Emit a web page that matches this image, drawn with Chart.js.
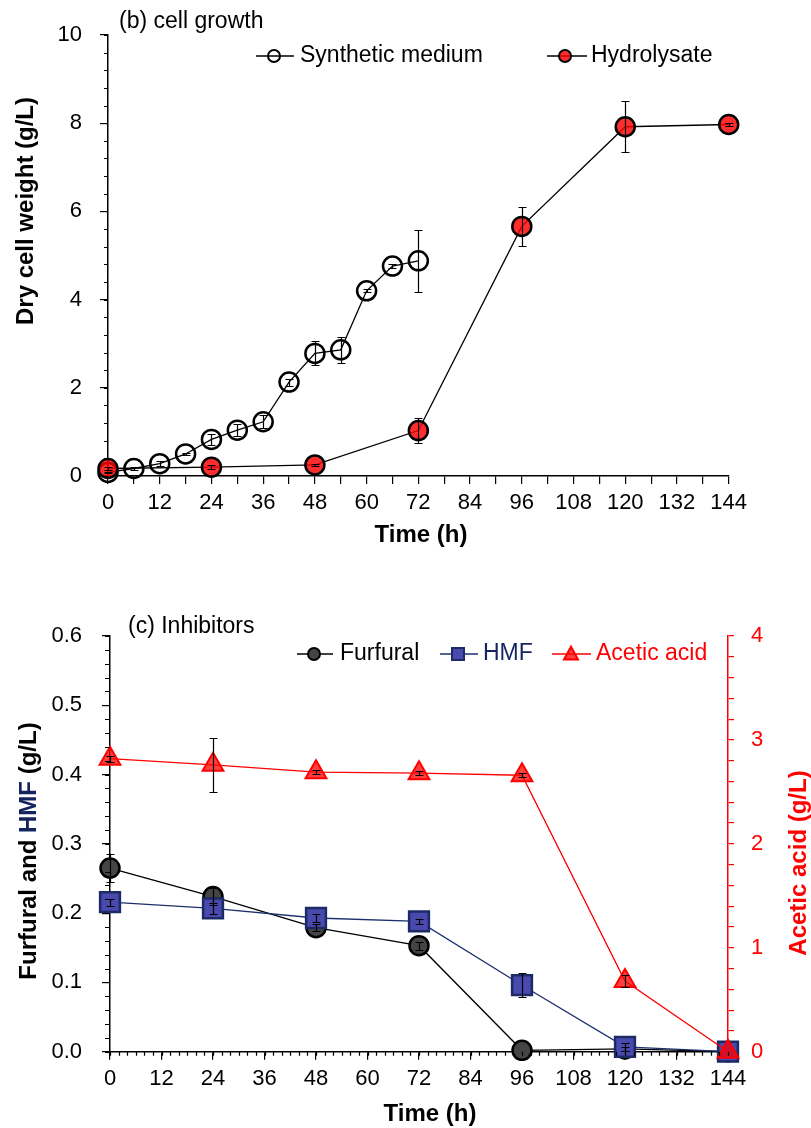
<!DOCTYPE html>
<html><head><meta charset="utf-8">
<script src="https://cdn.jsdelivr.net/npm/chart.js@4"></script>
<style>
html,body{margin:0;padding:0;background:#fff;}
#wrap{position:relative;width:811px;height:1128px;overflow:hidden;background:#fff;}
canvas{position:absolute;left:0;}
#c1{top:0}
#c2{top:565px}
</style></head><body>
<div id="wrap"><canvas id="c1" width="811" height="565"></canvas><canvas id="c2" width="811" height="563"></canvas></div>
<script>
// ---------------- data ----------------
// (b) cell growth
const timeSynthetic = [0, 6, 12, 18, 24, 30, 36, 42, 48, 54, 60, 66, 72];
const dcwSynthetic  = [0.08, 0.17, 0.28, 0.50, 0.83, 1.04, 1.23, 2.13, 2.78, 2.86, 4.20, 4.76, 4.88];
const errSynthetic  = [0.02, 0.03, 0.05, 0.03, 0.12, 0.13, 0.15, 0.08, 0.27, 0.30, 0.03, 0.04, 0.70];
const timeHydrolysate = [0, 24, 48, 72, 96, 120, 144];
const dcwHydrolysate  = [0.17, 0.20, 0.25, 1.03, 5.66, 7.92, 7.97];
const errHydrolysate  = [0.03, 0.05, 0.03, 0.28, 0.45, 0.58, 0.03];
const growthXTickLabels = [0, 12, 24, 36, 48, 60, 72, 84, 96, 108, 120, 132, 144];
const growthYTickLabels = [0, 2, 4, 6, 8, 10];

// (c) inhibitors
const timeInhibitors = [0, 24, 48, 72, 96, 120, 144];
const furfural    = [0.265, 0.224, 0.179, 0.153, 0.002, 0.004, 0.000];
const furfuralErr = [0.020, 0.012, 0.005, 0.006, 0.000, 0.003, 0.000];
const hmf         = [0.216, 0.207, 0.193, 0.188, 0.096, 0.007, 0.000];
const hmfErr      = [0.005, 0.008, 0.006, 0.004, 0.017, 0.006, 0.000];
const aceticAcid    = [2.82, 2.76, 2.69, 2.68, 2.66, 0.68, 0.00];
const aceticAcidErr = [0.03, 0.26, 0.02, 0.02, 0.02, 0.06, 0.00];
const inhibXTickLabels = [0, 12, 24, 36, 48, 60, 72, 84, 96, 108, 120, 132, 144];
const inhibYTickLabels = ['0.0', '0.1', '0.2', '0.3', '0.4', '0.5', '0.6'];
const aceticYTickLabels = ['0', '1', '2', '3', '4'];

// ---------------- helpers ----------------
const FONT = "'Liberation Sans', Arial, Helvetica, sans-serif";
Chart.defaults.font.family = FONT;
Chart.defaults.color = '#000';

const pts = (xs, ys) => xs.map((x, i) => ({x, y: ys[i]}));
const setW = w => s => { s.width = w; s.paddingTop = 0; s.paddingBottom = 0; };
const setH = h => s => { s.height = h; s.paddingLeft = 0; s.paddingRight = 0; };
const snap = v => Math.round(v) + 0.5;

function txt(ctx, s, x, y, o = {}) {
  const {size = 23, bold = false, color = '#000', align = 'left', rot = 0} = o;
  ctx.save();
  ctx.translate(x, y); ctx.rotate(rot);
  ctx.font = (bold ? 'bold ' : '') + size + 'px ' + FONT;
  ctx.fillStyle = color; ctx.textAlign = align; ctx.textBaseline = 'middle';
  ctx.fillText(s, 0, 0);
  ctx.restore();
}
function multiTxt(ctx, parts, x, y, size, rot) {
  ctx.save();
  ctx.translate(x, y); ctx.rotate(rot);
  ctx.font = 'bold ' + size + 'px ' + FONT;
  ctx.textBaseline = 'middle'; ctx.textAlign = 'left';
  const total = parts.reduce((a, p) => a + ctx.measureText(p[0]).width, 0);
  let cx = -total / 2;
  parts.forEach(p => { ctx.fillStyle = p[1]; ctx.fillText(p[0], cx, 0); cx += ctx.measureText(p[0]).width; });
  ctx.restore();
}
function marker(ctx, style, x, y, r, fill, stroke, lw) {
  ctx.save();
  ctx.beginPath();
  if (style === 'circle') ctx.arc(x, y, r, 0, Math.PI * 2);
  else if (style === 'rect') ctx.rect(x - r, y - r, 2 * r, 2 * r);
  else { ctx.moveTo(x, y - r * 1.05); ctx.lineTo(x + r, y + r * 0.8); ctx.lineTo(x - r, y + r * 0.8); ctx.closePath(); }
  if (fill) { ctx.fillStyle = fill; ctx.fill(); }
  ctx.lineWidth = lw; ctx.strokeStyle = stroke; ctx.stroke();
  ctx.restore();
}
function legendItem(ctx, x1, x2, mx, y, style, r, fill, stroke, lineColor, label, tx, tcolor) {
  ctx.save();
  ctx.strokeStyle = lineColor; ctx.lineWidth = 1.3;
  ctx.beginPath(); ctx.moveTo(x1, snap(y) - 0.5); ctx.lineTo(x2, snap(y) - 0.5); ctx.stroke();
  ctx.restore();
  marker(ctx, style, mx, y, r, fill, stroke, 2);
  txt(ctx, label, tx, y, {size: 23, color: tcolor});
}
function minorTicks(id, specs) {
  return { id, afterDraw(chart) {
    const ctx = chart.ctx;
    specs.forEach(s => {
      const sc = chart.scales[s.axis];
      ctx.save(); ctx.strokeStyle = s.color; ctx.lineWidth = 1.2; ctx.beginPath();
      for (let k = 0; ; k++) {
        const v = sc.min + k * s.step;
        if (v > sc.max + 1e-9) break;
        const p = snap(sc.getPixelForValue(v));
        if (s.side === 'left') { ctx.moveTo(sc.right, p); ctx.lineTo(sc.right - s.len, p); }
        else if (s.side === 'right') { ctx.moveTo(sc.left, p); ctx.lineTo(sc.left + s.len, p); }
        else { ctx.moveTo(p, sc.top); ctx.lineTo(p, sc.top + s.len); }
      }
      ctx.stroke(); ctx.restore();
    });
  }};
}
function errorBars(id, specs) {
  return { id, afterDatasetsDraw(chart) {
    const ctx = chart.ctx, xs = chart.scales.x;
    specs.forEach(s => {
      const ys = chart.scales[s.axis];
      ctx.save(); ctx.strokeStyle = '#000'; ctx.lineWidth = 1.2; ctx.beginPath();
      s.t.forEach((t, i) => {
        const e = s.e[i]; if (!e) return;
        const x = snap(xs.getPixelForValue(t));
        const y1 = Math.round(ys.getPixelForValue(s.v[i] + e)) + 0.5;
        const y2 = Math.round(ys.getPixelForValue(Math.max(s.v[i] - e, 0))) + 0.5;
        ctx.moveTo(x, y1); ctx.lineTo(x, y2);
        ctx.moveTo(x - 4, y1); ctx.lineTo(x + 4, y1);
        ctx.moveTo(x - 4, y2); ctx.lineTo(x + 4, y2);
      });
      ctx.stroke(); ctx.restore();
    });
  }};
}
const axisGrid = (len, color) => ({display: true, drawOnChartArea: false, drawTicks: true, tickLength: len, color, lineWidth: 1.2});
const axisBorder = color => ({display: true, color, width: 1.5});

// ---------------- chart (b) ----------------
new Chart(document.getElementById('c1'), {
  type: 'line',
  data: { datasets: [
    { label: 'Hydrolysate', data: pts(timeHydrolysate, dcwHydrolysate), order: 0,
      borderColor: '#000', borderWidth: 1.3, tension: 0, fill: false, clip: false,
      pointStyle: 'circle', pointRadius: 9.5, pointBorderWidth: 2.5,
      pointBackgroundColor: 'rgba(255,0,0,0.82)', pointBorderColor: '#000' },
    { label: 'Synthetic medium', data: pts(timeSynthetic, dcwSynthetic), order: 1,
      borderColor: '#000', borderWidth: 1.3, tension: 0, fill: false, clip: false,
      pointStyle: 'circle', pointRadius: 9.5, pointBorderWidth: 2.5,
      pointBackgroundColor: 'rgba(0,0,0,0)', pointBorderColor: '#000' }
  ]},
  options: {
    responsive: false, animation: false, devicePixelRatio: 1, events: [],
    layout: { padding: { top: 35, right: 82.3, left: 0, bottom: 0 } },
    plugins: { legend: { display: false }, tooltip: { enabled: false } },
    scales: {
      x: { type: 'linear', position: 'bottom', min: 0, max: 144, afterFit: setH(89),
        ticks: { stepSize: 6, autoSkip: false, maxRotation: 0, minRotation: 0, padding: 6, font: { size: 22 },
          callback: v => growthXTickLabels.includes(v) ? String(v) : '' },
        grid: axisGrid(8, '#000'), border: axisBorder('#000') },
      y: { type: 'linear', position: 'left', min: 0, max: 10, afterFit: setW(108),
        ticks: { stepSize: 2, autoSkip: false, padding: 18, font: { size: 22 },
          callback: v => growthYTickLabels.includes(v) ? String(v) : '' },
        grid: axisGrid(8, '#000'), border: axisBorder('#000') }
    }
  },
  plugins: [
    minorTicks('minorB', [{axis: 'y', step: 0.4, len: 4, side: 'left', color: '#000'}]),
    errorBars('errB', [
      {axis: 'y', t: timeSynthetic, v: dcwSynthetic, e: errSynthetic},
      {axis: 'y', t: timeHydrolysate, v: dcwHydrolysate, e: errHydrolysate}
    ]),
    { id: 'textB', afterDraw(chart) {
      const ctx = chart.ctx;
      txt(ctx, '(b) cell growth', 119, 22, {size: 23});
      legendItem(ctx, 256, 294, 274, 56, 'circle', 6, null, '#000', '#000', 'Synthetic medium', 300, '#000');
      legendItem(ctx, 547, 587, 565, 56, 'circle', 6, 'rgba(255,0,0,0.82)', '#000', '#000', 'Hydrolysate', 591, '#000');
      txt(ctx, 'Time (h)', 421, 535, {size: 24, bold: true, align: 'center'});
      txt(ctx, 'Dry cell weight (g/L)', 26, 211, {size: 24, bold: true, align: 'center', rot: -Math.PI / 2});
    }}
  ]
});

// ---------------- chart (c) ----------------
new Chart(document.getElementById('c2'), {
  type: 'line',
  data: { datasets: [
    { label: 'Acetic acid', data: pts(timeInhibitors, aceticAcid), yAxisID: 'y2', order: 0,
      borderColor: '#ff0000', borderWidth: 1.3, tension: 0, fill: false, clip: false,
      pointStyle: 'triangle', pointRadius: 12, pointBorderWidth: 2,
      pointBackgroundColor: 'rgba(255,0,0,0.75)', pointBorderColor: '#ff0000' },
    { label: 'HMF', data: pts(timeInhibitors, hmf), yAxisID: 'y', order: 1,
      borderColor: '#1c2f6e', borderWidth: 1.3, tension: 0, fill: false, clip: false,
      pointStyle: 'rect', pointRadius: 14, pointBorderWidth: 2.5,
      pointBackgroundColor: '#4a4aae', pointBorderColor: '#1c2a66' },
    { label: 'Furfural', data: pts(timeInhibitors, furfural), yAxisID: 'y', order: 2,
      borderColor: '#000', borderWidth: 1.3, tension: 0, fill: false, clip: false,
      pointStyle: 'circle', pointRadius: 9.5, pointBorderWidth: 2.5,
      pointBackgroundColor: '#454545', pointBorderColor: '#000' }
  ]},
  options: {
    responsive: false, animation: false, devicePixelRatio: 1, events: [],
    layout: { padding: { top: 71, right: 0, left: 0, bottom: 0 } },
    plugins: { legend: { display: false }, tooltip: { enabled: false } },
    scales: {
      x: { type: 'linear', position: 'bottom', min: 0, max: 144, afterFit: setH(76.3),
        ticks: { stepSize: 12, autoSkip: false, maxRotation: 0, minRotation: 0, padding: 6, font: { size: 22 },
          callback: v => inhibXTickLabels.includes(v) ? String(v) : '' },
        grid: axisGrid(8, '#000'), border: axisBorder('#000') },
      y: { type: 'linear', position: 'left', min: 0, max: 0.6, afterFit: setW(110),
        ticks: { stepSize: 0.1, autoSkip: false, padding: 20, font: { size: 22 },
          callback: v => { const s = v.toFixed(1); return inhibYTickLabels.includes(s) ? s : ''; } },
        grid: axisGrid(8, '#000'), border: axisBorder('#000') },
      y2: { type: 'linear', position: 'right', min: 0, max: 4, afterFit: setW(83),
        ticks: { stepSize: 0.2, autoSkip: false, padding: 17, color: '#ff0000', font: { size: 22 },
          callback: v => { const r = Math.round(v); return (Math.abs(v - r) < 1e-6 && aceticYTickLabels.includes(String(r))) ? String(r) : ''; } },
        grid: axisGrid(6, '#ff0000'), border: axisBorder('#ff0000') }
    }
  },
  plugins: [
    minorTicks('minorC', [
      {axis: 'y', step: 0.02, len: 5, side: 'left', color: '#000'},
      {axis: 'x', step: 2, len: 4, side: 'bottom', color: '#000'}
    ]),
    errorBars('errC', [
      {axis: 'y', t: timeInhibitors, v: furfural, e: furfuralErr},
      {axis: 'y', t: timeInhibitors, v: hmf, e: hmfErr},
      {axis: 'y2', t: timeInhibitors, v: aceticAcid, e: aceticAcidErr}
    ]),
    { id: 'textC', afterDraw(chart) {
      const ctx = chart.ctx;
      txt(ctx, '(c) Inhibitors', 128, 62, {size: 23});
      legendItem(ctx, 297, 333, 314, 89, 'circle', 6, '#454545', '#000', '#000', 'Furfural', 340, '#000');
      legendItem(ctx, 440, 478, 458, 89, 'rect', 6, '#4a4aae', '#1c2a66', '#1c2f6e', 'HMF', 483, '#14245e');
      legendItem(ctx, 552, 591, 571, 89, 'triangle', 7, 'rgba(255,0,0,0.75)', '#ff0000', '#ff0000', 'Acetic acid', 596, '#ff0000');
      txt(ctx, 'Time (h)', 430, 549, {size: 24, bold: true, align: 'center'});
      multiTxt(ctx, [['Furfural and ', '#000'], ['HMF', '#14245e'], [' (g/L)', '#000']], 29, 286, 24, -Math.PI / 2);
      txt(ctx, 'Acetic acid (g/L)', 799, 298, {size: 24, bold: true, align: 'center', color: '#ff0000', rot: -Math.PI / 2});
    }}
  ]
});
</script>
</body></html>
